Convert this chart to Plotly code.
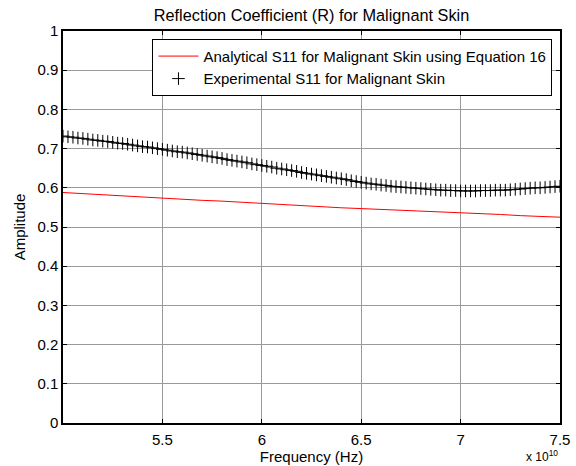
import numpy as np
import plotly.graph_objects as go

# Frequency grids (Hz)
freq_exp = np.linspace(5.0e10, 7.5e10, 101)
freq_ana = np.linspace(5.0e10, 7.5e10, 26)

s11_experimental = [
    0.732, 0.730, 0.729, 0.727, 0.726, 0.724, 0.722, 0.721, 0.719, 0.718,
    0.716, 0.714, 0.713, 0.711, 0.709, 0.707, 0.705, 0.704, 0.702, 0.700,
    0.698, 0.696, 0.694, 0.692, 0.691, 0.689, 0.687, 0.685, 0.683, 0.681,
    0.679, 0.677, 0.675, 0.672, 0.670, 0.668, 0.666, 0.664, 0.661, 0.659,
    0.657, 0.655, 0.653, 0.650, 0.648, 0.646, 0.644, 0.642, 0.639, 0.637,
    0.635, 0.633, 0.631, 0.629, 0.627, 0.625, 0.623, 0.621, 0.618, 0.616,
    0.614, 0.612, 0.610, 0.609, 0.607, 0.606, 0.604, 0.603, 0.602, 0.601,
    0.600, 0.599, 0.598, 0.597, 0.596, 0.595, 0.594, 0.594, 0.593, 0.593,
    0.592, 0.592, 0.592, 0.592, 0.593, 0.593, 0.593, 0.594, 0.594, 0.594,
    0.595, 0.596, 0.597, 0.598, 0.599, 0.600, 0.600, 0.601, 0.602, 0.603,
    0.604,
]

s11_analytical = [
    0.588, 0.585, 0.582, 0.580, 0.577, 0.574, 0.571, 0.568, 0.566, 0.563,
    0.560, 0.557, 0.555, 0.552, 0.549, 0.547, 0.545, 0.542, 0.540, 0.538,
    0.536, 0.534, 0.532, 0.529, 0.527, 0.525,
]

x_tickvals = [5.5e10, 6.0e10, 6.5e10, 7.0e10, 7.5e10]
x_ticktext = ["5.5", "6", "6.5", "7", "7.5"]
y_tickvals = [0, 0.1, 0.2, 0.3, 0.4, 0.5, 0.6, 0.7, 0.8, 0.9, 1]
y_ticktext = ["0", "0.1", "0.2", "0.3", "0.4", "0.5", "0.6", "0.7", "0.8", "0.9", "1"]

FONT = "Liberation Sans, Arial, sans-serif"

fig = go.Figure()
fig.add_trace(go.Scatter(
    x=freq_ana, y=s11_analytical, mode="lines",
    line=dict(color="#ff0000", width=1),
    name="Analytical S11 for Malignant Skin using Equation 16",
))
fig.add_trace(go.Scatter(
    x=freq_exp, y=s11_experimental, mode="markers",
    marker=dict(symbol="cross-thin", size=9, line=dict(color="black", width=1), color="black"),
    name="Experimental S11 for Malignant Skin",
))

axis_common = dict(
    showline=True, linecolor="black", linewidth=1.5, mirror="ticks",
    ticks="inside", ticklen=4, tickcolor="black",
    showgrid=True, gridcolor="#9a9a9a", gridwidth=1,
    zeroline=False, automargin=False,
    tickfont=dict(family=FONT, size=15, color="black"),
)

fig.update_layout(
    width=576, height=466,
    margin=dict(l=63, r=16, t=31, b=43),
    paper_bgcolor="white", plot_bgcolor="white",
    title=dict(text="Reflection Coefficient (R) for Malignant Skin",
               font=dict(family=FONT, size=16.3, color="black"),
               x=0.5, xanchor="center", xref="paper",
               yref="container", y=1 - 15 / 466, yanchor="middle"),
    xaxis=dict(range=[5.0e10, 7.5e10], tickvals=x_tickvals, ticktext=x_ticktext,
               ticklabelstandoff=2,
               title=dict(text="Frequency (Hz)", font=dict(family=FONT, size=15, color="black"), standoff=5),
               **axis_common),
    yaxis=dict(range=[0, 1], tickvals=y_tickvals, ticktext=y_ticktext,
               title=dict(text="Amplitude", font=dict(family=FONT, size=15, color="black"), standoff=8),
               **axis_common),
    legend=dict(x=0.18, y=0.98, xanchor="left", yanchor="top",
                bgcolor="white", bordercolor="black", borderwidth=1,
                font=dict(family=FONT, size=15, color="black"),
                tracegroupgap=0, itemwidth=40),
    showlegend=True,
)

fig.add_annotation(
    text="x 10<sup>10</sup>", xref="paper", yref="paper",
    x=1.0, y=-0.083, xanchor="right", yanchor="middle", showarrow=False,
    font=dict(family=FONT, size=12, color="black"),
)

fig.write_html("out.html")
